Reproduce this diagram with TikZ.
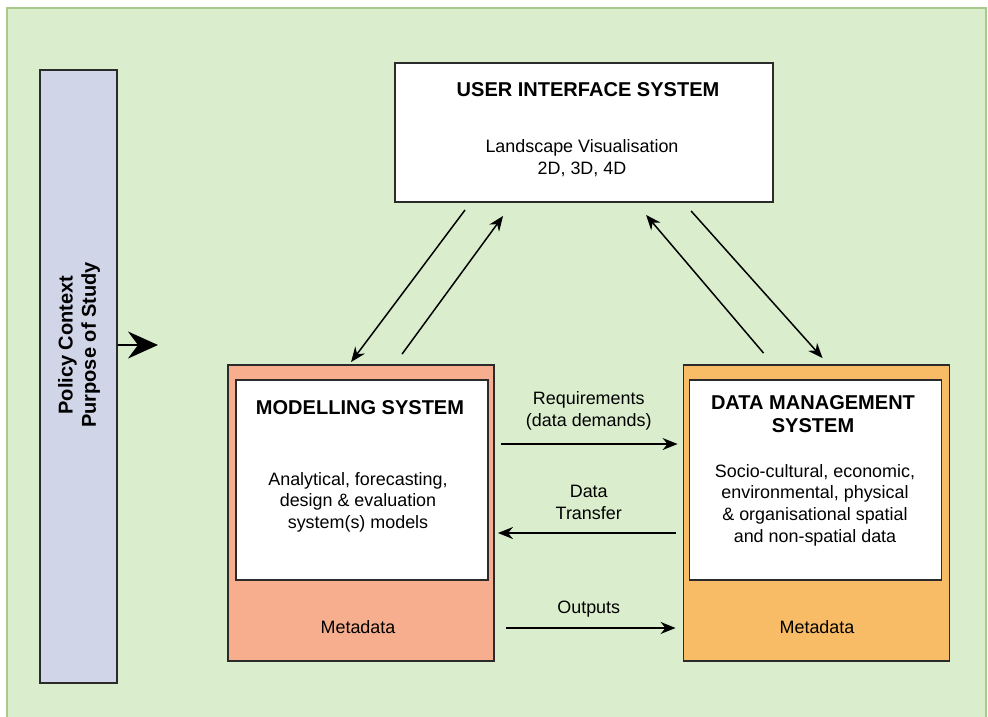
\documentclass[tikz,border=0pt]{standalone}
\usepackage{fontspec}
\setmainfont{Liberation Sans}
\usetikzlibrary{arrows.meta,calc,positioning}

\definecolor{bggreen}{HTML}{DAEECD}
\definecolor{bgedge}{HTML}{A8C98C}
\definecolor{policyblue}{HTML}{D0D6E8}
\definecolor{modelred}{HTML}{F7AE8E}
\definecolor{dataorange}{HTML}{F9BC66}
\definecolor{boxline}{HTML}{2B2B2B}

\tikzset{
	box/.style={draw=boxline, line width=1.1pt, inner sep=0pt},
	innerbox/.style={box, fill=white, line width=0.9pt, minimum width=5.04cm, minimum height=4cm},
	outerbox/.style={box, minimum width=5.32cm, minimum height=5.92cm},
	title/.style={font=\fontsize{11.4}{13.2}\selectfont\bfseries, align=center, inner sep=0pt},
	body/.style={font=\fontsize{10.2}{12.3}\selectfont, align=center, inner sep=0pt},
	flow/.style={-{Stealth[length=3mm,width=2.4mm]}, line width=0.85pt},
}

\begin{document}
\begin{tikzpicture}[x=0.02cm,y=-0.02cm]
	\useasboundingbox (0,0) rectangle (988,717);
	\draw[bgedge, fill=bggreen, line width=1.1pt] (7,8) rectangle (986,730);

	% boxes
	\node[box, fill=policyblue, minimum width=1.54cm, minimum height=12.26cm] (policy) at (78.5,376.5) {};
	\node[title, rotate=90] (policytext) at (79,345) {Policy Context\\Purpose of Study};
	\coordinate (policyend) at (158,345);
	\draw[-{Stealth[length=6mm,width=5.4mm,inset=2mm]}, line width=1.1pt] ([yshift=6.3mm]policy.east) -- (policyend);

	\node[box, fill=white, minimum width=7.56cm, minimum height=2.78cm] (ui) at (584,132.5) {};
	\node[title] (uititle) at (588,90) {USER INTERFACE SYSTEM};
	\node[body] (uitext) at (582,158) {Landscape Visualisation\\2D, 3D, 4D};

	\node[outerbox, fill=modelred] (model) at (361,513) {};
	\node[innerbox] (modelin) at (362,480) {};
	\node[title] (modeltitle) at (360,408) {MODELLING SYSTEM};
	\node[body] (modeltext) at (358,502) {Analytical, forecasting,\\design \& evaluation\\system(s) models};
	\node[body] (modelmeta) at (358,627) {Metadata};

	\node[outerbox, fill=dataorange] (dms) at (816.5,513) {};
	\node[innerbox] (dmsin) at (815.5,480) {};
	\node[title] (dmstitle) at (813,414) {DATA MANAGEMENT\\SYSTEM};
	\node[body] (dmstext) at (815,505) {Socio-cultural, economic,\\environmental, physical\\\& organisational spatial\\and non-spatial data};
	\node[body] (dmsmeta) at (817,627) {Metadata};

	% links to the interface
	\draw[flow] ($(ui.south west)+(71,7)$) -- ($(model.north west)+(124,-2)$);
	\draw[flow] ($(model.north west)+(175,-10)$) -- ($(ui.south west)+(109,13)$);
	\draw[flow] ($(dms.north west)+(81,-11)$) -- ($(ui.south west)+(252,12)$);
	\draw[flow] ($(ui.south west)+(297,8)$) -- ($(dms.north west)+(140,-6)$);

	% links between the systems
	\draw[flow, shorten <=1.2mm, shorten >=1mm] ([yshift=13.8mm]model.east) -- ([yshift=13.8mm]dms.west)
		node[body, midway, above=2.6mm] (reqlabel) {Requirements\\(data demands)};
	\draw[flow, shorten <=1.4mm, shorten >=0.6mm] ([yshift=-4mm]dms.west) -- ([yshift=-4mm]model.east)
		node[body, midway, above=2.6mm] (transferlabel) {Data\\Transfer};
	\draw[flow, shorten <=2.2mm, shorten >=1.4mm] ([yshift=-23mm]model.east) -- ([yshift=-23mm]dms.west)
		node[body, midway, above=2mm] (outlabel) {Outputs};
\end{tikzpicture}
\end{document}
